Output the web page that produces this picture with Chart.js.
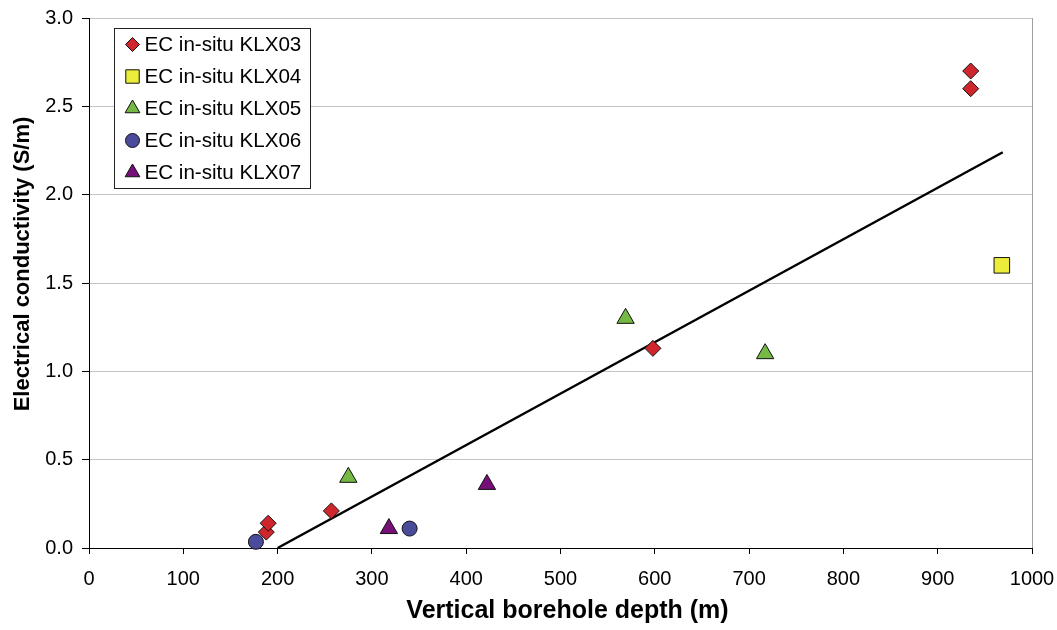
<!DOCTYPE html>
<html>
<head>
<meta charset="utf-8">
<title>EC vs depth</title>
<script src="https://cdn.jsdelivr.net/npm/chart.js@4/dist/chart.umd.min.js"></script>
<style>
  html, body { margin: 0; padding: 0; background: #fff; }
  #wrap { width: 1057px; height: 630px; }
</style>
</head>
<body>
<div id="wrap"><canvas id="chart" width="1057" height="630"></canvas></div>
<script>
// measured in-situ conductivity per borehole: depth (m) and EC (S/m)
const seriesNames = ["EC in-situ KLX03", "EC in-situ KLX04", "EC in-situ KLX05", "EC in-situ KLX06", "EC in-situ KLX07"];

const klx03Depth = [188, 190, 257, 598, 935, 935];
const klx03EC    = [0.09, 0.14, 0.21, 1.13, 2.70, 2.60];

const klx04Depth = [968];
const klx04EC    = [1.60];

const klx05Depth = [275, 569, 717];
const klx05EC    = [0.40, 1.30, 1.10];

const klx06Depth = [177, 340];
const klx06EC    = [0.035, 0.11];

const klx07Depth = [318, 422];
const klx07EC    = [0.11, 0.36];

// fitted trend line end points
const trendDepth = [200, 969];
const trendEC    = [0.0, 2.24];

const xTitle = "Vertical borehole depth (m)";
const yTitle = "Electrical conductivity (S/m)";

const xRange = [0, 1000, 100];
const yRange = [0, 3.0, 0.5];

const FONT = '"Liberation Sans", Arial, sans-serif';

function toPoints(xs, ys) {
  return xs.map((x, i) => ({ x: x, y: ys[i] }));
}

const markers = [
  { style: "rectRot",  color: "#cf252d", radius: 8,   legendRadius: 7 },
  { style: "rect",     color: "#ecec3a", radius: 11,  legendRadius: 9.5 },
  { style: "triangle", color: "#75b843", radius: 10,  legendRadius: 8.5 },
  { style: "circle",   color: "#4b4b9c", radius: 7.5, legendRadius: 7 },
  { style: "triangle", color: "#770f78", radius: 10,  legendRadius: 8.5 }
];

const seriesData = [
  toPoints(klx03Depth, klx03EC),
  toPoints(klx04Depth, klx04EC),
  toPoints(klx05Depth, klx05EC),
  toPoints(klx06Depth, klx06EC),
  toPoints(klx07Depth, klx07EC)
];

const datasets = seriesData.map((pts, i) => ({
  label: seriesNames[i],
  data: pts,
  pointStyle: markers[i].style,
  pointRadius: markers[i].radius,
  pointHoverRadius: markers[i].radius,
  backgroundColor: markers[i].color,
  borderColor: "#111",
  borderWidth: 1,
  clip: false
}));

// trend line goes behind the markers
datasets.push({
  label: "trend",
  data: toPoints(trendDepth, trendEC),
  showLine: true,
  pointRadius: 0,
  borderColor: "#000",
  borderWidth: 2.5,
  order: 10,
  clip: false
});

// boxed legend in the upper left corner of the plot
const boxLegend = {
  id: "boxLegend",
  afterDatasetsDraw(chart) {
    const ctx = chart.ctx;
    const a = chart.chartArea;
    const left = Math.round(a.left + 25) + 0.5;
    const top = Math.round(a.top + 10) + 0.5;
    const w = 196, h = 160;
    ctx.save();
    ctx.fillStyle = "#fff";
    ctx.fillRect(left, top, w, h);
    ctx.strokeStyle = "#222";
    ctx.lineWidth = 1;
    ctx.strokeRect(left, top, w, h);
    ctx.font = "20.6px " + FONT;
    ctx.textBaseline = "middle";
    ctx.textAlign = "left";
    seriesNames.forEach((name, i) => {
      const cy = top + 16 + i * 32;
      const m = markers[i];
      ctx.fillStyle = m.color;
      ctx.strokeStyle = "#111";
      ctx.lineWidth = 1;
      Chart.helpers.drawPoint(ctx, { pointStyle: m.style, radius: m.legendRadius, rotation: 0, borderWidth: 1 }, left + 18, cy);
      ctx.fillStyle = "#000";
      ctx.fillText(name, left + 30, cy + 1);
    });
    ctx.restore();
  }
};

// bold axis titles
const axisTitles = {
  id: "axisTitles",
  afterDraw(chart) {
    const ctx = chart.ctx;
    const a = chart.chartArea;
    ctx.save();
    ctx.fillStyle = "#000";
    ctx.textAlign = "center";
    ctx.textBaseline = "middle";
    ctx.font = "bold 25px " + FONT;
    ctx.fillText(xTitle, (a.left + a.right) / 2 + 7, chart.height - 19);
    ctx.translate(23, (a.top + a.bottom) / 2 - 19);
    ctx.rotate(-Math.PI / 2);
    ctx.font = "bold 22px " + FONT;
    ctx.fillText(yTitle, 0, 0);
    ctx.restore();
  }
};

new Chart(document.getElementById("chart"), {
  type: "scatter",
  data: { datasets: datasets },
  plugins: [boxLegend, axisTitles],
  options: {
    responsive: false,
    animation: false,
    events: [],
    layout: { padding: { top: 18, right: 25, left: 0, bottom: 0 } },
    plugins: {
      legend: { display: false },
      tooltip: { enabled: false }
    },
    scales: {
      x: {
        type: "linear",
        min: xRange[0],
        max: xRange[1],
        afterFit(scale) {
          scale.height = 82;
          scale.paddingLeft = 0;
          scale.paddingRight = 0;
        },
        ticks: {
          stepSize: xRange[2],
          color: "#000",
          padding: 13,
          font: { size: 20, family: FONT },
          callback: (v) => String(v)
        },
        grid: {
          drawOnChartArea: true,
          color: (c) => (c.tick && c.tick.value === xRange[1]) ? "#a0a0a0" : "rgba(0,0,0,0)",
          tickColor: "#000",
          tickLength: 6,
          lineWidth: 1
        },
        border: { color: "#000", width: 1 }
      },
      y: {
        type: "linear",
        min: yRange[0],
        max: yRange[1],
        afterFit(scale) {
          scale.width = 89;
          scale.paddingTop = 0;
          scale.paddingBottom = 0;
        },
        ticks: {
          stepSize: yRange[2],
          color: "#000",
          padding: 9,
          font: { size: 20, family: FONT },
          callback: (v) => v.toFixed(1)
        },
        grid: {
          color: "#c4c4c4",
          tickColor: "#000",
          tickLength: 7,
          lineWidth: 1
        },
        border: { color: "#000", width: 1 }
      }
    }
  }
});
</script>
</body>
</html>
